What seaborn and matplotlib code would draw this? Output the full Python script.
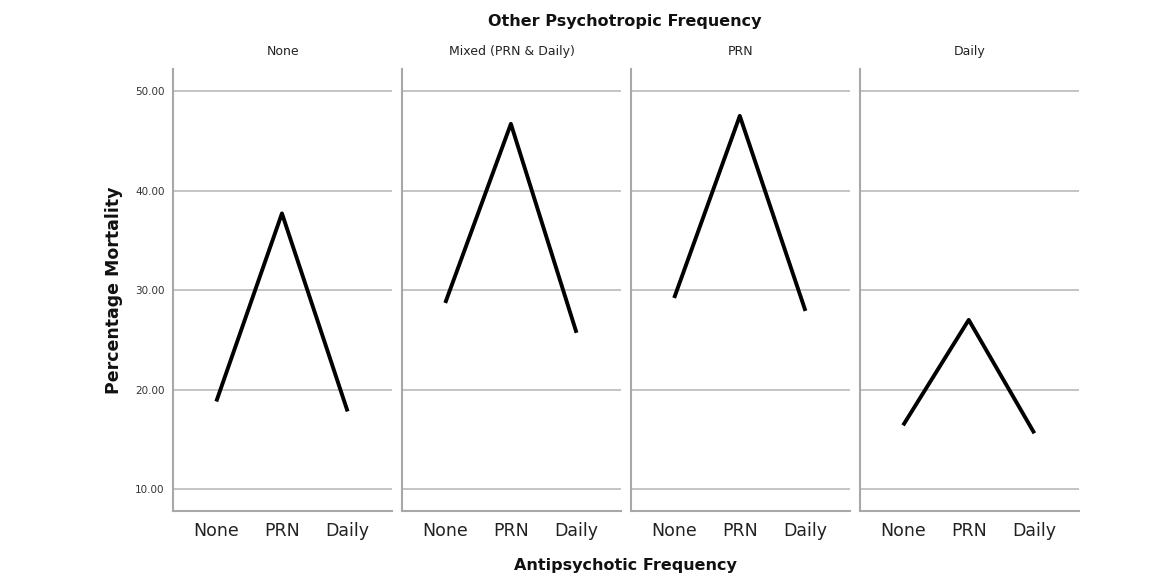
import matplotlib
matplotlib.use("Agg")
import matplotlib.pyplot as plt
import seaborn as sns
import pandas as pd

# Values
antipsychotic = ["None", "PRN", "Daily"]
other_freq = ["None", "Mixed (PRN & Daily)", "PRN", "Daily"]
mort_none = [18.8, 37.7, 17.8]
mort_mixed = [28.7, 46.7, 25.7]
mort_prn = [29.2, 47.5, 27.9]
mort_daily = [16.4, 27.0, 15.6]

series = [mort_none, mort_mixed, mort_prn, mort_daily]
rows = []
for panel, vals in zip(other_freq, series):
    for cat, v in zip(antipsychotic, vals):
        rows.append({"other": panel, "anti": cat, "mortality": v})
df = pd.DataFrame(rows)

sns.set_style("white")
plt.rcParams["font.family"] = ["DejaVu Sans"]

fig, axes = plt.subplots(1, 4, figsize=(11.64, 5.76), dpi=100, sharey=True)
fig.subplots_adjust(left=0.1486, right=0.927, bottom=0.113, top=0.880, wspace=0.044)

spine_col = "#a8a8a8"
for i, (ax, panel) in enumerate(zip(axes, other_freq)):
    sub = df[df["other"] == panel]
    sns.lineplot(data=sub, x="anti", y="mortality", ax=ax, color="black",
                 linewidth=2.8, solid_capstyle="butt", zorder=3)
    ax.set_xlim(-0.66, 2.68)
    ax.set_ylim(7.8, 52.2)
    ax.set_yticks([10, 20, 30, 40, 50])
    ax.set_yticklabels([f"{t:.2f}" for t in [10, 20, 30, 40, 50]])
    ax.yaxis.grid(True, color="#c4c4c4", linewidth=1.4)
    ax.set_axisbelow(True)
    for s in ["top", "right"]:
        ax.spines[s].set_visible(False)
    for s in ["left", "bottom"]:
        ax.spines[s].set_color(spine_col)
        ax.spines[s].set_linewidth(1.5)
    ax.tick_params(axis="both", length=0)
    ax.tick_params(axis="x", labelsize=12.5, labelcolor="#222222", pad=8)
    ax.tick_params(axis="y", labelsize=7.5, labelcolor="#333333", pad=6)
    ax.set_xlabel("")
    ax.set_ylabel("")
    ax.set_title(panel, fontsize=9, color="#222222", pad=10)
    if i > 0:
        ax.tick_params(axis="y", labelleft=False)

axes[0].set_ylabel("Percentage Mortality", fontsize=12.5, fontweight="bold",
                   color="#111111", labelpad=9)
fig.text(0.537, 0.962, "Other Psychotropic Frequency", ha="center", va="center",
         fontsize=11.5, fontweight="bold", color="#111111")
fig.text(0.537, 0.018, "Antipsychotic Frequency", ha="center", va="center",
         fontsize=11.5, fontweight="bold", color="#111111")

fig.savefig("out.png", dpi=100)
